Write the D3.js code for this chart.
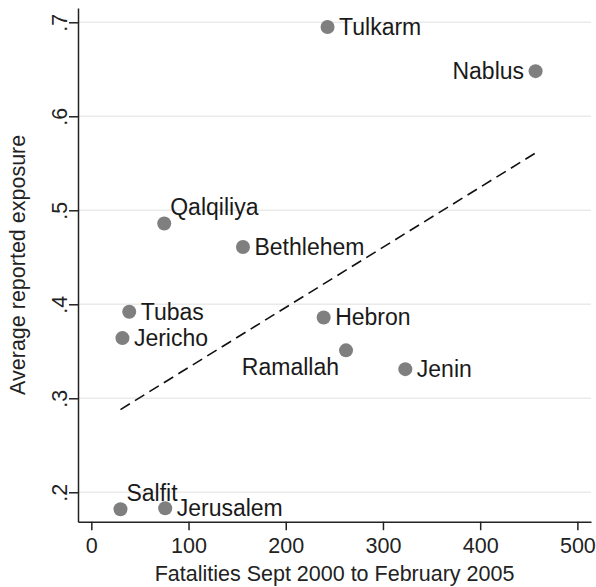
<!DOCTYPE html>
<html>
<head>
<meta charset="utf-8">
<script src="https://cdn.jsdelivr.net/npm/d3@7"></script>
<style>
  body { margin: 0; background: #fff; }
  svg { display: block; font-family: "Liberation Sans", Arial, sans-serif; }
</style>
</head>
<body>
<div id="chart_div"></div>
<script>
// District data
const districts = ["Salfit", "Jerusalem", "Qalqiliya", "Bethlehem", "Tubas", "Jericho",
                   "Hebron", "Ramallah", "Jenin", "Tulkarm", "Nablus"];
const fatalities = [30, 76, 75, 156, 39, 32, 239, 262, 323, 243, 457];
const exposure = [0.182, 0.183, 0.486, 0.461, 0.392, 0.364, 0.386, 0.351, 0.331, 0.695, 0.648];
// marker label position, clock style (3 = right, 9 = left ...)
const labelClock = [1, 3, 1, 3, 3, 3, 3, 7, 3, 3, 9];

// fitted line end points
const fitX = [30, 457];
const fitY = [0.288, 0.561];

const xTicks = [0, 100, 200, 300, 400, 500];
const yTicks = [0.2, 0.3, 0.4, 0.5, 0.6, 0.7];
const yTickLabels = [".2", ".3", ".4", ".5", ".6", ".7"];

const xTitle = "Fatalities Sept 2000 to February 2005";
const yTitle = "Average reported exposure";

const width = 596;
const height = 587;

// plot region
const plotLeft = 78, plotRight = 591, plotTop = 8, plotBottom = 521.7;

const x = d3.scaleLinear().domain([-13.7, 514]).range([plotLeft, plotRight]);
const y = d3.scaleLinear().domain([0.1687, 0.7152]).range([plotBottom, plotTop]);

const svg = d3.select("#chart_div").append("svg")
  .attr("width", width)
  .attr("height", height);

// gridlines
svg.append("g")
  .selectAll("line")
  .data(yTicks)
  .join("line")
  .attr("x1", plotLeft)
  .attr("x2", plotRight)
  .attr("y1", d => y(d))
  .attr("y2", d => y(d))
  .attr("stroke", "#eaeaea")
  .attr("stroke-width", 1.5);

// axes
const gx = svg.append("g")
  .attr("transform", `translate(0,${plotBottom})`)
  .call(d3.axisBottom(x).tickValues(xTicks).tickSize(8.5).tickSizeOuter(0).tickPadding(8));

const gy = svg.append("g")
  .attr("transform", `translate(${plotLeft},0)`)
  .call(d3.axisLeft(y).tickValues(yTicks).tickSize(9).tickSizeOuter(0)
    .tickFormat((d, i) => yTickLabels[i]));

[gx, gy].forEach(g => {
  g.select(".domain").attr("stroke", "#222").attr("stroke-width", 1.5);
  g.selectAll(".tick line").attr("stroke", "#222").attr("stroke-width", 1.5);
  g.selectAll(".tick text")
    .attr("fill", "#222")
    .style("font-size", "21.5px")
    .style("font-family", "'Liberation Sans', Arial, sans-serif");
});

// rotate the y tick labels like the reference
gy.selectAll(".tick text")
  .attr("x", null)
  .attr("dy", null)
  .attr("text-anchor", "middle")
  .attr("transform", "translate(-11,0) rotate(-90)");

// axis titles
svg.append("text")
  .attr("x", (plotLeft + plotRight) / 2)
  .attr("y", 581)
  .attr("text-anchor", "middle")
  .attr("fill", "#222")
  .style("font-size", "21.5px")
  .text(xTitle);

svg.append("text")
  .attr("transform", `translate(25,${(plotTop + plotBottom) / 2}) rotate(-90)`)
  .attr("text-anchor", "middle")
  .attr("fill", "#222")
  .style("font-size", "21.5px")
  .text(yTitle);

// fitted line
svg.append("path")
  .datum(fitX.map((d, i) => [d, fitY[i]]))
  .attr("d", d3.line().x(d => x(d[0])).y(d => y(d[1])))
  .attr("fill", "none")
  .attr("stroke", "#111")
  .attr("stroke-width", 1.6)
  .attr("stroke-dasharray", "11,6");

// points
const pts = districts.map((name, i) => ({
  name, fx: fatalities[i], ey: exposure[i], clock: labelClock[i]
}));

svg.append("g")
  .selectAll("circle")
  .data(pts)
  .join("circle")
  .attr("cx", d => x(d.fx))
  .attr("cy", d => y(d.ey))
  .attr("r", 7)
  .attr("fill", "#7f7f7f");

// label offsets per clock position
const clockOffset = {
  1: { dx: 6, dy: -8, anchor: "start" },
  3: { dx: 11.5, dy: 8, anchor: "start" },
  7: { dx: -7, dy: 25, anchor: "end" },
  9: { dx: -11.5, dy: 8, anchor: "end" }
};

svg.append("g")
  .selectAll("text")
  .data(pts)
  .join("text")
  .attr("x", d => x(d.fx) + clockOffset[d.clock].dx)
  .attr("y", d => y(d.ey) + clockOffset[d.clock].dy)
  .attr("text-anchor", d => clockOffset[d.clock].anchor)
  .attr("fill", "#1a1a1a")
  .style("font-size", "23px")
  .text(d => d.name);
</script>
</body>
</html>
